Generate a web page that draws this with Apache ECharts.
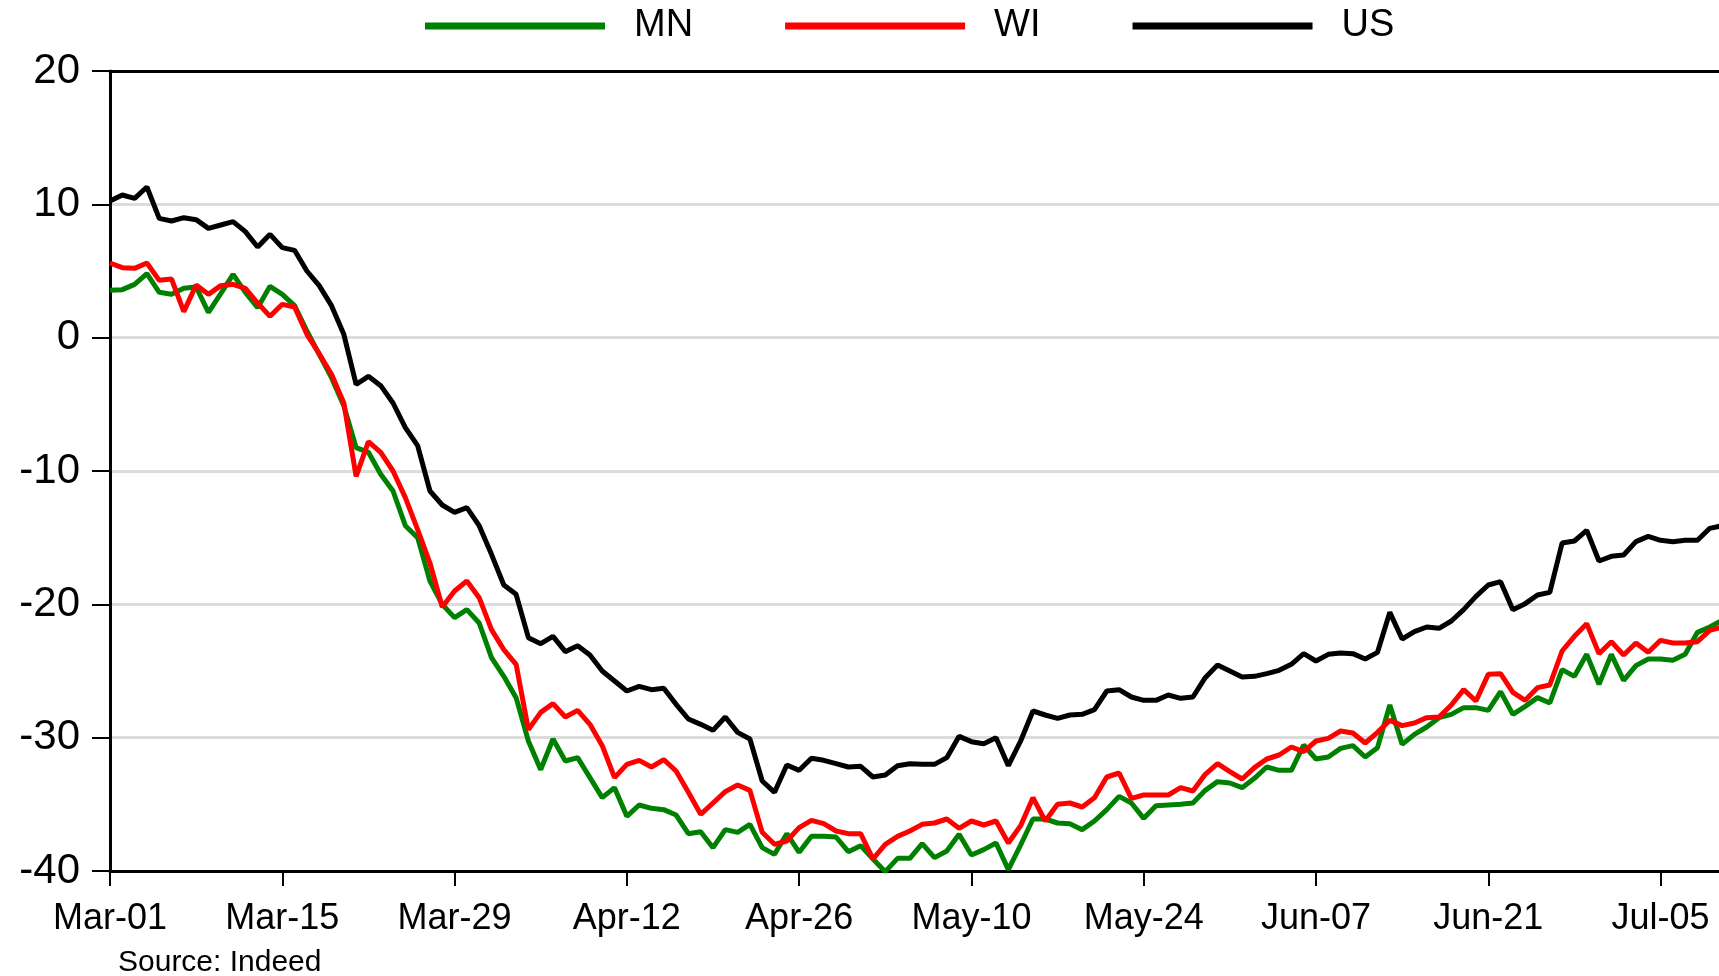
<!DOCTYPE html>
<html>
<head>
<meta charset="utf-8">
<script src="https://cdn.jsdelivr.net/npm/echarts@6/dist/echarts.min.js"></script>
<style>html,body{margin:0;padding:0;background:#fff;}#chart{width:1719px;height:976px;}</style>
</head>
<body>
<div id="chart"></div>
<script>
// Daily values, Mar-01 (index 0) onward
const tickLabels = ['Mar-01','Mar-15','Mar-29','Apr-12','Apr-26','May-10','May-24','Jun-07','Jun-21','Jul-05'];
const tickDays = [0,14,28,42,56,70,84,98,112,126];

const mn = [3.55,3.6,4.0,4.8,3.4,3.25,3.7,3.8,1.9,3.3,4.75,3.4,2.25,3.85,3.25,2.4,0.5,-1.25,-3.0,-5.1,
-8.25,-8.6,-10.25,-11.5,-14.1,-15,-18.25,-20,-21,-20.4,-21.4,-24,-25.4,-27,-30.25,-32.4,-30.1,-31.75,-31.5,-33,
-34.5,-33.75,-35.9,-35.05,-35.3,-35.4,-35.8,-37.2,-37.05,-38.25,-36.9,-37.1,-36.5,-38.25,-38.75,-37.2,-38.6,-37.4,-37.4,-37.45,
-38.55,-38.1,-39.1,-40.05,-39.05,-39.05,-37.95,-39,-38.5,-37.25,-38.8,-38.4,-37.9,-39.9,-38.05,-36.1,-36.1,-36.4,-36.45,-36.9,
-36.25,-35.4,-34.4,-34.9,-36.05,-35.1,-35.05,-35.0,-34.9,-33.95,-33.3,-33.4,-33.75,-33.05,-32.2,-32.45,-32.45,-30.55,-31.6,-31.45,
-30.8,-30.6,-31.45,-30.75,-27.55,-30.5,-29.75,-29.2,-28.5,-28.25,-27.75,-27.75,-27.95,-26.55,-28.25,-27.65,-27,-27.4,-24.9,-25.4,
-23.75,-26,-23.75,-25.7,-24.6,-24.1,-24.1,-24.2,-23.75,-22.1,-21.7,-21.2];

const wi = [5.6,5.25,5.2,5.6,4.3,4.4,1.95,3.95,3.25,3.9,4.0,3.7,2.6,1.6,2.5,2.3,0.25,-1.2,-2.75,-4.9,
-10.4,-7.8,-8.6,-10,-12,-14.4,-16.9,-20.2,-19,-18.25,-19.5,-21.9,-23.4,-24.5,-29.4,-28.1,-27.45,-28.45,-27.95,-29,
-30.6,-33,-32,-31.7,-32.2,-31.65,-32.5,-34.1,-35.75,-34.9,-34.05,-33.55,-33.95,-37.1,-38,-37.75,-36.75,-36.2,-36.45,-37,
-37.2,-37.2,-39.1,-38,-37.4,-37,-36.5,-36.4,-36.1,-36.8,-36.25,-36.55,-36.25,-37.9,-36.6,-34.5,-36.25,-35,-34.9,-35.2,
-34.5,-32.95,-32.65,-34.55,-34.3,-34.3,-34.3,-33.75,-34,-32.75,-31.95,-32.55,-33.1,-32.25,-31.6,-31.3,-30.7,-31.05,-30.25,-30.05,
-29.5,-29.65,-30.4,-29.6,-28.7,-29.1,-28.9,-28.5,-28.45,-27.55,-26.4,-27.25,-25.25,-25.2,-26.6,-27.2,-26.25,-26.05,-23.5,-22.4,
-21.45,-23.7,-22.8,-23.8,-22.9,-23.6,-22.7,-22.9,-22.9,-22.8,-21.95,-21.7];

const us = [10.25,10.7,10.45,11.3,8.95,8.75,9.0,8.85,8.2,8.45,8.7,7.95,6.8,7.75,6.75,6.55,5.0,3.9,2.4,0.25,
-3.5,-2.9,-3.6,-4.9,-6.75,-8.1,-11.5,-12.55,-13.1,-12.75,-14.1,-16.25,-18.55,-19.25,-22.5,-22.95,-22.4,-23.55,-23.1,-23.8,
-25,-25.75,-26.5,-26.15,-26.4,-26.3,-27.5,-28.6,-29,-29.45,-28.45,-29.6,-30.1,-33.25,-34.1,-32.05,-32.45,-31.55,-31.7,-31.95,
-32.2,-32.15,-32.95,-32.8,-32.1,-31.95,-32,-32,-31.5,-29.9,-30.3,-30.45,-30,-32.1,-30.25,-28,-28.3,-28.55,-28.3,-28.25,
-27.9,-26.5,-26.4,-26.95,-27.2,-27.2,-26.8,-27.05,-26.95,-25.5,-24.55,-25,-25.45,-25.4,-25.2,-24.95,-24.5,-23.7,-24.25,-23.75,
-23.65,-23.7,-24.1,-23.6,-20.6,-22.6,-22.05,-21.7,-21.8,-21.25,-20.4,-19.4,-18.55,-18.3,-20.4,-19.95,-19.3,-19.1,-15.4,-15.25,
-14.45,-16.75,-16.4,-16.3,-15.3,-14.9,-15.2,-15.3,-15.2,-15.2,-14.3,-14.1];

const FONT = '"Liberation Sans", Arial, sans-serif';
const chart = echarts.init(document.getElementById('chart'), null, {renderer: 'canvas'});
const toXY = arr => arr.map((v, i) => [i, v]);
const lineSeries = (name, arr, color) => ({
  name, type: 'line', data: toXY(arr), showSymbol: false, symbol: 'none',
  lineStyle: {color, width: 5}, itemStyle: {color}, clip: true, animation: false
});

chart.setOption({
  animation: false,
  backgroundColor: '#fff',
  legend: {
    left: 420, top: 2, itemGap: 92, itemWidth: 180, itemHeight: 7, icon: 'rect',
    textStyle: {fontFamily: FONT, fontSize: 38, color: '#000', lineHeight: 38, padding: [0, 0, 0, 24]},
    data: ['MN', 'WI', 'US']
  },
  grid: {left: 110, right: 0, top: 71, bottom: 105, containLabel: false},
  xAxis: [{
    type: 'value', min: 0, max: 130.75,
    axisLine: {show: true, onZero: false, lineStyle: {color: '#000', width: 3}},
    axisTick: {show: true, length: 15, lineStyle: {color: '#000', width: 2}, customValues: tickDays},
    axisLabel: {customValues: tickDays, formatter: v => tickLabels[tickDays.indexOf(Math.round(v))] || '',
      fontFamily: FONT, fontSize: 36, color: '#000', margin: 30, lineHeight: 36},
    splitLine: {show: false}
  }, {
    type: 'value', min: 0, max: 130.75, position: 'top',
    axisLine: {show: true, onZero: false, lineStyle: {color: '#000', width: 3}},
    axisTick: {show: false}, axisLabel: {show: false}, splitLine: {show: false}
  }],
  yAxis: {
    type: 'value', min: -40, max: 20, interval: 10,
    axisLine: {show: true, onZero: false, lineStyle: {color: '#000', width: 3}},
    axisTick: {show: true, length: 18, lineStyle: {color: '#000', width: 2}},
    axisLabel: {fontFamily: FONT, fontSize: 42, color: '#000', margin: 30},
    splitLine: {show: true, lineStyle: {color: '#dcdcdc', width: 3}}
  },
  graphic: [{
    type: 'text', left: 118, top: 948,
    style: {text: 'Source: Indeed', fontFamily: FONT, fontSize: 30, fill: '#000'}
  }],
  series: [
    lineSeries('MN', mn, '#008000'),
    lineSeries('WI', wi, '#ff0000'),
    lineSeries('US', us, '#000000')
  ]
});
</script>
</body>
</html>
